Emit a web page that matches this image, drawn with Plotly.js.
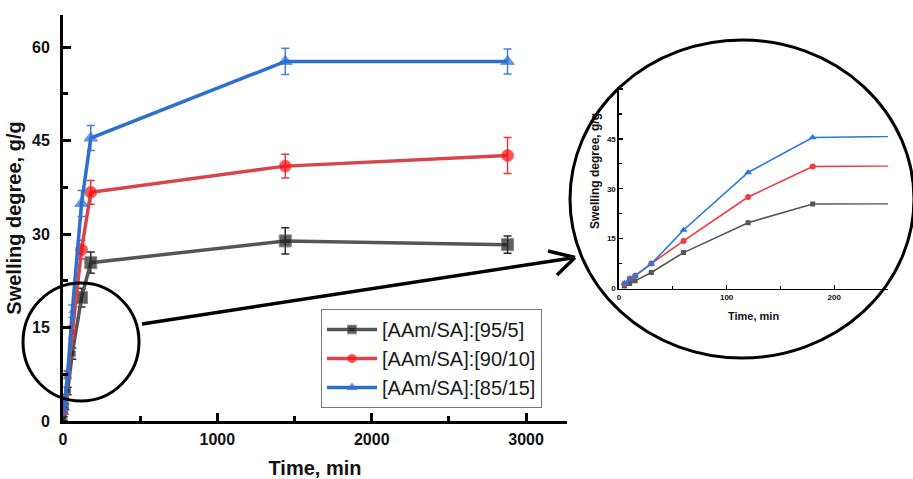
<!DOCTYPE html>
<html>
<head>
<meta charset="utf-8">
<script src="https://cdn.plot.ly/plotly-3.0.1.min.js"></script>
<style>
  html, body { margin: 0; padding: 0; background: #fff; }
  #chart { width: 913px; height: 479px; }
</style>
</head>
<body>
<div id="chart"></div>
<script>
// Swelling kinetics of AAm/SA hydrogels
const timeMin = [5, 10, 15, 30, 60, 120, 180, 1440, 2880];

const names = ['[AAm/SA]:[95/5]', '[AAm/SA]:[90/10]', '[AAm/SA]:[85/15]'];

const swell95_5  = [0.4, 1.5, 2.3, 4.8, 10.8, 19.8, 25.4, 28.9, 28.3];
const swell90_10 = [1.4, 3.0, 3.8, 7.5, 14.3, 27.5, 36.7, 40.9, 42.6];
const swell85_15 = [1.6, 2.8, 3.8, 7.4, 17.6, 34.9, 45.4, 57.7, 57.7];

const err95_5  = [0.3, 0.4, 0.5, 0.6, 0.9, 1.5, 1.7, 2.1, 1.4];
const err90_10 = [0.3, 0.4, 0.5, 0.6, 1.0, 1.5, 1.9, 1.9, 2.9];
const err85_15 = [0.3, 0.4, 0.5, 0.6, 1.0, 2.1, 2.0, 2.1, 2.0];

const mainXTicks = [0, 1000, 2000, 3000];
const mainYTicks = [0, 15, 30, 45, 60];
const insetXTicks = [0, 100, 200];
const insetYTicks = [0, 15, 30, 45, 60];
const insetYLabels = ['0', '15', '30', '45', ''];

const W = 913, H = 479;
const px = v => v / W;          // pixel column -> paper x
const py = v => 1 - v / H;      // pixel row -> paper y
const FONT = 'Arial, "Liberation Sans", sans-serif';

const styles = [
  { line: '#555555', marker: '#1e1e1e', err: '#2a2a2a', symbol: 'square',      inLine: '#555555', inSize: 5 },
  { line: '#d9444b', marker: '#ff0b0b', err: '#e03c42', symbol: 'circle',      inLine: '#f03c3c', inSize: 6 },
  { line: '#2c6fcf', marker: '#2a6ed3', err: '#4581d8', symbol: 'triangle-up', inLine: '#2878e0', inSize: 7 }
];
const series = [swell95_5, swell90_10, swell85_15];
const errors = [err95_5, err90_10, err85_15];

// the crowded first hour is drawn with smaller symbols
const markerSize = t => (t <= 60 ? 6 : 12);

const traces = [];
series.forEach((ys, i) => {
  const s = styles[i];
  traces.push({
    type: 'scatter', mode: 'lines+markers', name: names[i],
    x: timeMin, y: ys, xaxis: 'x', yaxis: 'y',
    line: { color: s.line, width: 3.5 },
    marker: { color: s.marker, symbol: s.symbol, size: timeMin.map(markerSize) },
    error_y: { type: 'data', array: errors[i], visible: true, color: s.err, thickness: 1.5, width: 4 },
    cliponaxis: false
  });
});
// enlarged view of the first 250 min
series.forEach((ys, i) => {
  const s = styles[i];
  traces.push({
    type: 'scatter', mode: 'lines+markers', name: names[i], showlegend: false,
    x: timeMin, y: ys, xaxis: 'x2', yaxis: 'y2',
    line: { color: s.inLine, width: 1.6 },
    marker: { color: s.inLine, symbol: s.symbol, size: s.inSize }
  });
});

const axisCommon = {
  showline: true, linecolor: '#000', showgrid: false, zeroline: false,
  ticks: 'inside', tickcolor: '#000', mirror: false
};

const layout = {
  width: W, height: H,
  margin: { l: 0, r: 0, t: 0, b: 0 },
  paper_bgcolor: '#fff', plot_bgcolor: 'rgba(0,0,0,0)',
  font: { family: FONT, color: '#111' },
  showlegend: true,
  legend: {
    x: px(321), y: py(309), xanchor: 'left', yanchor: 'top',
    bgcolor: '#fff', bordercolor: '#777', borderwidth: 1,
    font: { family: FONT, size: 20, color: '#1a1a1a' },
    itemwidth: 50, tracegroupgap: 0
  },
  xaxis: Object.assign({}, axisCommon, {
    domain: [px(63), px(567)], range: [0, 3265], anchor: 'y',
    linewidth: 3, ticklen: 8, tickwidth: 3,
    tickmode: 'array', tickvals: mainXTicks,
    minor: { dtick: 500, tick0: 0, ticks: 'inside', ticklen: 5, tickwidth: 3, tickcolor: '#000' },
    tickfont: { family: FONT, size: 16, weight: 'bold', color: '#111' },
    ticklabelstandoff: 2,
    title: { text: 'Time, min', font: { family: FONT, size: 20, weight: 'bold', color: '#111' }, standoff: 14 },
    automargin: false
  }),
  yaxis: Object.assign({}, axisCommon, {
    domain: [py(421), py(15)], range: [0, 65.15], anchor: 'x',
    linewidth: 3, ticklen: 8, tickwidth: 3,
    tickmode: 'array', tickvals: mainYTicks,
    minor: { dtick: 7.5, tick0: 0, ticks: 'inside', ticklen: 5, tickwidth: 3, tickcolor: '#000' },
    tickfont: { family: FONT, size: 16, weight: 'bold', color: '#111' },
    ticklabelstandoff: 7,
    title: { text: 'Swelling degree, g/g', font: { family: FONT, size: 20, weight: 'bold', color: '#111' }, standoff: 6 },
    automargin: false
  }),
  xaxis2: Object.assign({}, axisCommon, {
    domain: [px(619), px(888)], range: [0, 250], anchor: 'y2',
    linewidth: 1.6, ticklen: 4, tickwidth: 1.4,
    tickmode: 'array', tickvals: insetXTicks,
    minor: { dtick: 50, tick0: 0, ticks: 'inside', ticklen: 3, tickwidth: 1.2, tickcolor: '#000' },
    tickfont: { family: FONT, size: 8, weight: 'bold', color: '#111' },
    automargin: false
  }),
  yaxis2: Object.assign({}, axisCommon, {
    domain: [py(288.5), py(87)], range: [0, 60.6], anchor: 'x2',
    linewidth: 1.6, ticklen: 4, tickwidth: 1.4,
    tickmode: 'array', tickvals: insetYTicks, ticktext: insetYLabels,
    minor: { dtick: 7.5, tick0: 0, ticks: 'inside', ticklen: 3, tickwidth: 1.2, tickcolor: '#000' },
    tickfont: { family: FONT, size: 8, weight: 'bold', color: '#111' },
    automargin: false
  }),
  annotations: [
    { text: 'Swelling degree, g/g', xref: 'paper', yref: 'paper', x: px(595), y: py(171),
      textangle: -90, showarrow: false, xanchor: 'center', yanchor: 'middle',
      font: { family: FONT, size: 12, weight: 'bold', color: '#111' } },
    { text: 'Time, min', xref: 'paper', yref: 'paper', x: px(753), y: py(316),
      showarrow: false, xanchor: 'center', yanchor: 'middle',
      font: { family: FONT, size: 11, weight: 'bold', color: '#111' } }
  ],
  shapes: [
    // circled early-time region
    { type: 'circle', xref: 'paper', yref: 'paper', x0: px(23), x1: px(139), y0: py(401), y1: py(283),
      line: { color: '#000', width: 3 }, layer: 'above' },
    // pointer to the enlarged view
    { type: 'line', xref: 'paper', yref: 'paper', x0: px(142), y0: py(324), x1: px(575), y1: py(257.5),
      line: { color: '#000', width: 3.5 }, layer: 'above' },
    { type: 'line', xref: 'paper', yref: 'paper', x0: px(548), y0: py(251), x1: px(575), y1: py(257.5),
      line: { color: '#000', width: 3.5 }, layer: 'above' },
    { type: 'line', xref: 'paper', yref: 'paper', x0: px(557), y0: py(275), x1: px(575), y1: py(257.5),
      line: { color: '#000', width: 3.5 }, layer: 'above' },
    // frame of the enlarged view
    { type: 'circle', xref: 'paper', yref: 'paper', x0: px(570), x1: px(914), y0: py(358), y1: py(40),
      line: { color: '#000', width: 3 }, layer: 'above' }
  ]
};

Plotly.newPlot('chart', traces, layout, { displayModeBar: false, staticPlot: true });
</script>
</body>
</html>
